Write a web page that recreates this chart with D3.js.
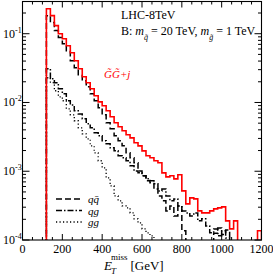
<!DOCTYPE html>
<html>
<head>
<meta charset="utf-8">
<script src="https://cdn.jsdelivr.net/npm/d3@7"></script>
<style>
  body { margin: 0; background: #fff; }
  svg { display: block; font-family: "Liberation Serif", "DejaVu Serif", serif; }
</style>
</head>
<body>
<svg id="chart" width="273" height="276"></svg>
<script>
// bin layout (GeV)
const binStart = 120;
const binWidth = 20;

// total G~G~+j
const total = [0.231, 0.183, 0.131, 0.100, 0.0846, 0.0669, 0.0529, 0.0405, 0.0310, 0.0237,
  0.0194, 0.0158, 0.0125, 0.0102, 0.00895, 0.00757, 0.00619, 0.00506, 0.00443, 0.00387,
  0.00339, 0.00306, 0.00259, 0.00234, 0.00198, 0.00168, 0.00157, 0.00142, 0.00133, 0.000948,
  0.000829, 0.000858, 0.000775, 0.000887, 0.000518, 0.000335, 0.000410, 0.000396, 0.000265, 0.000248,
  0.000248, 0.000265, 0.000284, 0.000293, 0.000303, 0.000190, 0.000145, 0.000190, 0, 0,
  0, 0, 0, 0.000136];

// q qbar channel
const qqbar = [0.183, 0.145, 0.111, 0.0880, 0.0715, 0.0566, 0.0405, 0.0320, 0.0253, 0.0207,
  0.0169, 0.0134, 0.0106, 0.0084, 0.00662, 0.00506, 0.00414, 0.00328, 0.00277, 0.00234,
  0.00185, 0.00157, 0.00133, 0.00101, 0.000858, 0.000725, 0.00068, 0.00055, 0.000438, 0.000371,
  0.000265, 0.000313, 0.000224, 0.000313, 0.000136, 0, 0, 0, 0, 0,
  0, 0, 0.000125, 0.00015, 0.00012, 0.00014, 0, 0, 0, 0,
  0, 0, 0, 0];

// q g channel
const qg = [0.031, 0.0221, 0.0194, 0.0158, 0.0134, 0.0106, 0.0092, 0.00757, 0.0068, 0.00579,
  0.0049, 0.00428, 0.00362, 0.00328, 0.00277, 0.00251, 0.00219, 0.00198, 0.00168, 0.00157,
  0.00142, 0.0012, 0.00101, 0.000948, 0.000858, 0.000775, 0.000725, 0.000656, 0.000518, 0.00055,
  0.000438, 0.000371, 0.000396, 0.000313, 0.000265, 0.000248, 0.000224, 0.000248, 0.00019, 0.000203,
  0.00016, 0.000127, 0.000145, 0.000115, 0.000136, 0.000107, 0, 0, 0, 0,
  0, 0, 0, 0];

// g g channel
const gg = [0.0229, 0.0194, 0.0148, 0.0121, 0.0106, 0.00809, 0.00662, 0.00542, 0.00428, 0.0035,
  0.00296, 0.00234, 0.00185, 0.00142, 0.00112, 0.000801, 0.000613, 0.000438, 0.000371, 0.000313,
  0.000293, 0.000248, 0.000203, 0.000177, 0.000145, 0.000127, 0.000115, 0, 0, 0,
  0, 0, 0, 0, 0, 0, 0, 0, 0, 0,
  0, 0, 0, 0, 0, 0, 0, 0, 0, 0,
  0, 0, 0, 0];

const xTicks = [0, 200, 400, 600, 800, 1000, 1200];
const yDecades = [-4, -3, -2, -1];

const svg = d3.select('#chart');
const pLeft = 22.5, pRight = 261.5, pTop = 1.5, pBottom = 240;

const x = d3.scaleLinear().domain([0, 1200]).range([pLeft, pRight]);
const y = d3.scaleLog().domain([1e-4, 0.294]).range([pBottom, pTop]);

svg.append('defs').append('clipPath').attr('id', 'clip')
  .append('rect').attr('x', pLeft).attr('y', pTop)
  .attr('width', pRight - pLeft).attr('height', pBottom - pTop);

// step path from bin values
function stepPoints(vals) {
  const pts = [[x(binStart), pBottom + 5]];
  vals.forEach((v, i) => {
    const e0 = binStart + i * binWidth;
    const yy = v > 0 ? y(v) : pBottom + 5;
    pts.push([x(e0), yy]);
    pts.push([x(e0 + binWidth), yy]);
  });
  pts.push([x(binStart + vals.length * binWidth), pBottom + 5]);
  return pts;
}

const line = d3.line();
const plot = svg.append('g').attr('clip-path', 'url(#clip)');

const series = [
  { vals: gg, color: '#000', dash: '1.2,2.3', w: 1.3 },
  { vals: qg, color: '#000', dash: '6,2,1.5,2', w: 1.5 },
  { vals: qqbar, color: '#000', dash: '6,3', w: 1.5 },
  { vals: total, color: '#ff0000', dash: null, w: 1.6 }
];
series.forEach(s => {
  plot.append('path')
    .attr('d', line(stepPoints(s.vals)))
    .attr('fill', 'none')
    .attr('stroke', s.color)
    .attr('stroke-width', s.w)
    .attr('stroke-dasharray', s.dash);
});

// frame
svg.append('rect')
  .attr('x', pLeft).attr('y', pTop)
  .attr('width', pRight - pLeft).attr('height', pBottom - pTop)
  .attr('fill', 'none').attr('stroke', '#000').attr('stroke-width', 1.1);

// x ticks (inside, bottom and top)
const xMinor = d3.range(0, 1201, 50).filter(v => v % 200 !== 0);
const tickG = svg.append('g').attr('stroke', '#000').attr('stroke-width', 1);
xTicks.forEach(v => {
  tickG.append('line').attr('x1', x(v)).attr('x2', x(v)).attr('y1', pBottom).attr('y2', pBottom - 6);
  tickG.append('line').attr('x1', x(v)).attr('x2', x(v)).attr('y1', pTop).attr('y2', pTop + 6);
});
xMinor.forEach(v => {
  tickG.append('line').attr('x1', x(v)).attr('x2', x(v)).attr('y1', pBottom).attr('y2', pBottom - 3);
  tickG.append('line').attr('x1', x(v)).attr('x2', x(v)).attr('y1', pTop).attr('y2', pTop + 3);
});

// y ticks (inside, left and right)
const yMinor = [];
yDecades.forEach(d => {
  for (let m = 2; m <= 9; m++) {
    const v = m * Math.pow(10, d);
    if (v <= y.domain()[1]) yMinor.push(v);
  }
});
yDecades.forEach(d => {
  const v = Math.pow(10, d);
  tickG.append('line').attr('x1', pLeft).attr('x2', pLeft + 7).attr('y1', y(v)).attr('y2', y(v));
  tickG.append('line').attr('x1', pRight).attr('x2', pRight - 7).attr('y1', y(v)).attr('y2', y(v));
});
yMinor.forEach(v => {
  tickG.append('line').attr('x1', pLeft).attr('x2', pLeft + 3.5).attr('y1', y(v)).attr('y2', y(v));
  tickG.append('line').attr('x1', pRight).attr('x2', pRight - 3.5).attr('y1', y(v)).attr('y2', y(v));
});

// x tick labels
svg.append('g').selectAll('text').data(xTicks).join('text')
  .attr('x', d => x(d)).attr('y', pBottom + 13)
  .attr('text-anchor', 'middle').attr('font-size', 12)
  .text(d => d);

// y tick labels
yDecades.forEach(d => {
  const t = svg.append('text').attr('x', 3).attr('y', y(Math.pow(10, d)) + 4).attr('font-size', 12);
  t.append('tspan').text('10');
  t.append('tspan').attr('dy', -5).attr('font-size', 8).text(d);
});

// axis title
const xt = svg.append('text').attr('x', 104).attr('y', 270).attr('font-size', 13);
xt.append('tspan').attr('font-style', 'italic').text('E');
xt.append('tspan').attr('dx', -1).attr('dy', 4).attr('font-size', 9).attr('font-style', 'italic').text('T');
xt.append('tspan').attr('dx', -5).attr('dy', -14).attr('font-size', 9).text('miss');
xt.append('tspan').attr('dx', 3).attr('dy', 10).text('[GeV]');

// header
svg.append('text').attr('x', 121).attr('y', 19).attr('font-size', 12).text('LHC-8TeV');
const h2 = svg.append('text').attr('x', 121).attr('y', 35).attr('font-size', 12);
h2.append('tspan').text('B: ');
h2.append('tspan').attr('font-style', 'italic').text('m');
h2.append('tspan').attr('dy', 5).attr('font-size', 8).attr('font-style', 'italic').text('q\u0303');
h2.append('tspan').attr('dy', -5).text(' = 20 TeV, ');
h2.append('tspan').attr('font-style', 'italic').text('m');
h2.append('tspan').attr('dy', 5).attr('font-size', 8).attr('font-style', 'italic').text('g\u0303');
h2.append('tspan').attr('dy', -5).text(' = 1 TeV');

// red process label
svg.append('text').attr('x', 104).attr('y', 78).attr('font-size', 11)
  .attr('font-style', 'italic').attr('fill', '#ff0000')
  .text('G\u0303G\u0303+j');

// legend
const legendItems = [
  { label: 'q', bar: true, dash: '6,3' },
  { label: 'qg', bar: false, dash: '6,2,1.5,2' },
  { label: 'gg', bar: false, dash: '1.2,2.3' }
];
legendItems.forEach((d, i) => {
  const ly = 199 + i * 11.5;
  svg.append('line').attr('x1', 56).attr('x2', 82).attr('y1', ly).attr('y2', ly)
    .attr('stroke', '#000').attr('stroke-width', 1.5).attr('stroke-dasharray', d.dash);
  const t = svg.append('text').attr('x', 88).attr('y', ly + 4).attr('font-size', 11).attr('font-style', 'italic');
  t.append('tspan').text(d.label);
  if (d.bar) t.append('tspan').text('q\u0304');
});
</script>
</body>
</html>
